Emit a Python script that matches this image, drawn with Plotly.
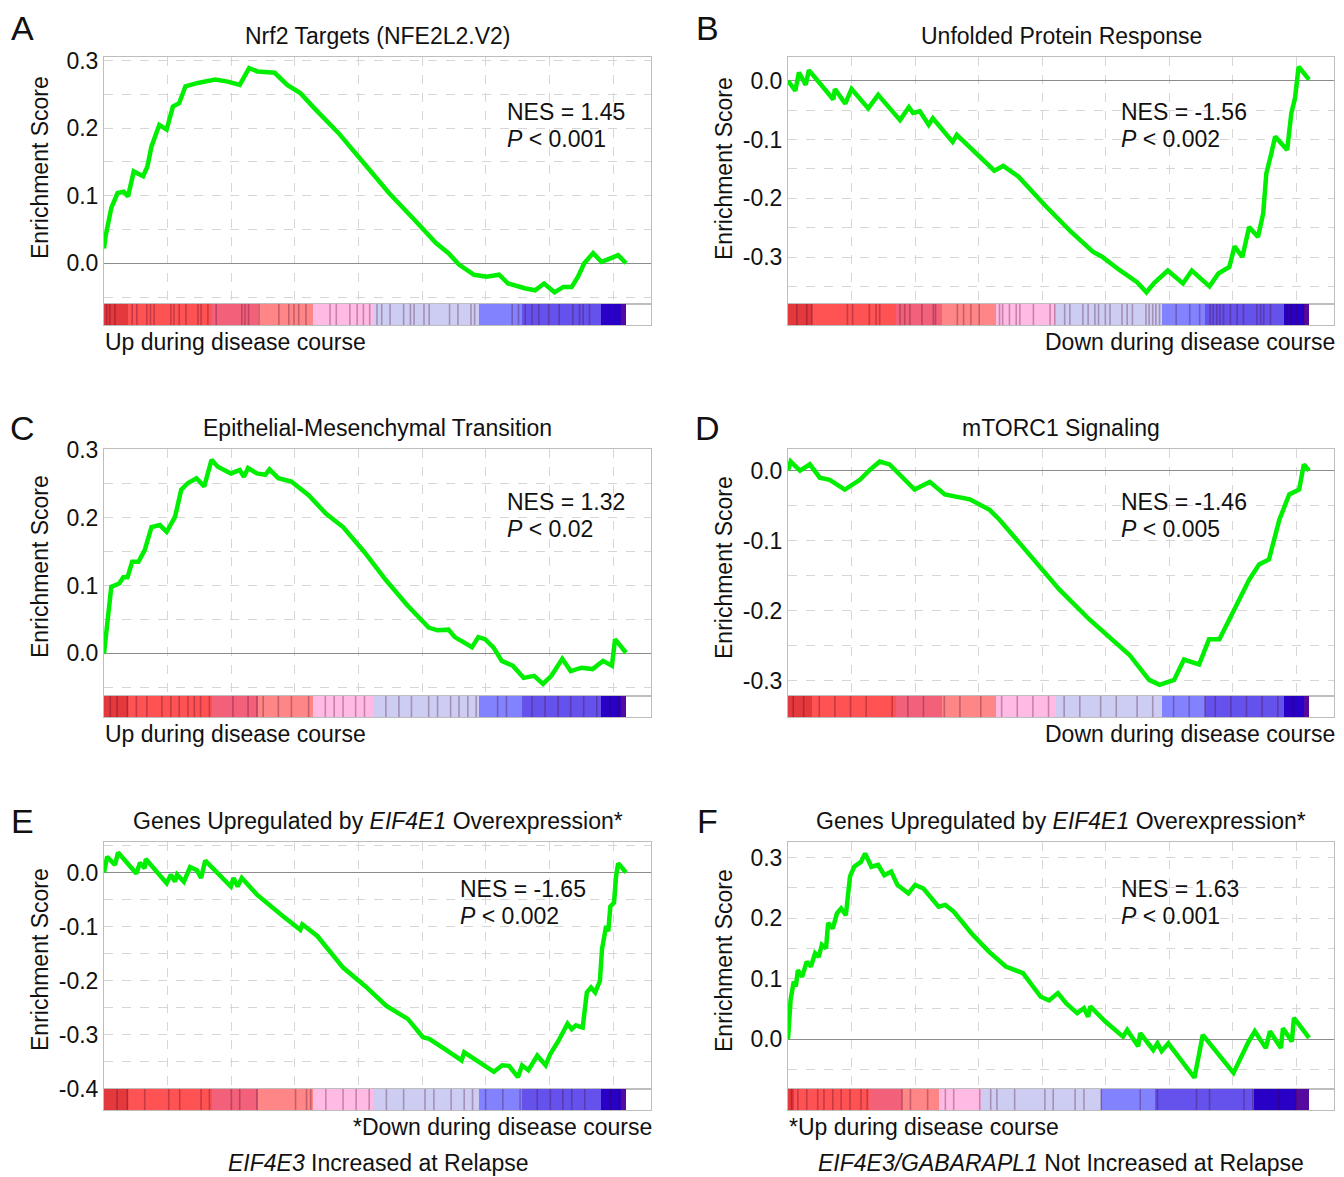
import plotly.graph_objects as go

# ---------------- data ----------------
N_GENES = 16400          # length of the ranked gene list
GRID_STEP = 2000         # rank spacing of the vertical grid lines

panel_letters = ["A", "B", "C", "D", "E", "F"]
panel_titles = [
    "Nrf2 Targets (NFE2L2.V2)",
    "Unfolded Protein Response",
    "Epithelial-Mesenchymal Transition",
    "mTORC1 Signaling",
    "Genes Upregulated by <i>EIF4E1</i> Overexpression*",
    "Genes Upregulated by <i>EIF4E1</i> Overexpression*",
]
nes_values = ["1.45", "-1.56", "1.32", "-1.46", "-1.65", "1.63"]
p_values = ["0.001", "0.002", "0.02", "0.005", "0.002", "0.001"]
direction_labels = [
    "Up during disease course", "Down during disease course",
    "Up during disease course", "Down during disease course",
    "*Down during disease course", "*Up during disease course",
]
captions = [None, None, None, None,
            "<i>EIF4E3</i> Increased at Relapse",
            "<i>EIF4E3/GABARAPL1</i> Not Increased at Relapse"]
y_tick_values = [
    [0.0, 0.1, 0.2, 0.3],
    [0.0, -0.1, -0.2, -0.3],
    [0.0, 0.1, 0.2, 0.3],
    [0.0, -0.1, -0.2, -0.3],
    [0.0, -0.1, -0.2, -0.3, -0.4],
    [0.0, 0.1, 0.2, 0.3],
]

# running enrichment score: position in ranked list (fraction) and ES
a_pos = [0, 0.003, 0.014, 0.026, 0.038, 0.046, 0.057, 0.075, 0.083, 0.091, 0.106, 0.12, 0.132, 0.144, 0.156,
         0.18, 0.213, 0.237, 0.26, 0.278, 0.294, 0.327, 0.351, 0.376, 0.4, 0.449, 0.498, 0.546, 0.595, 0.636,
         0.66, 0.68, 0.709, 0.733, 0.757, 0.774, 0.806, 0.826, 0.843, 0.863, 0.88, 0.896, 0.908, 0.92, 0.937,
         0.953, 0.969, 0.985, 1.0]
a_es = [0.022, 0.04, 0.082, 0.104, 0.106, 0.099, 0.136, 0.129, 0.143, 0.173, 0.205, 0.198, 0.232, 0.237, 0.262,
        0.267, 0.272, 0.269, 0.264, 0.289, 0.284, 0.282, 0.264, 0.252, 0.232, 0.193, 0.148, 0.104, 0.064, 0.030,
        0.015, -0.002, -0.017, -0.020, -0.017, -0.030, -0.037, -0.040, -0.030, -0.043, -0.035, -0.035, -0.020,
        0.000, 0.015, 0.002, 0.007, 0.012, 0.0]

b_pos = [0, 0.014, 0.021, 0.034, 0.04, 0.055, 0.087, 0.09, 0.11, 0.122, 0.154, 0.173, 0.215, 0.232, 0.24,
         0.253, 0.27, 0.278, 0.316, 0.324, 0.341, 0.396, 0.413, 0.442, 0.493, 0.543, 0.585, 0.602, 0.636, 0.67,
         0.688, 0.703, 0.729, 0.758, 0.775, 0.809, 0.826, 0.847, 0.857, 0.872, 0.885, 0.902, 0.912, 0.918, 0.927,
         0.935, 0.958, 0.966, 0.973, 0.98, 1.0]
b_es = [0.0, -0.017, 0.014, -0.007, 0.018, 0.002, -0.032, -0.014, -0.039, -0.014, -0.047, -0.024, -0.067, -0.045,
        -0.055, -0.052, -0.075, -0.064, -0.104, -0.092, -0.106, -0.153, -0.145, -0.163, -0.212, -0.257, -0.291,
        -0.299, -0.322, -0.343, -0.36, -0.344, -0.323, -0.345, -0.323, -0.35, -0.328, -0.317, -0.282, -0.3,
        -0.249, -0.266, -0.226, -0.158, -0.126, -0.095, -0.118, -0.055, -0.030, 0.024, 0.002]

c_pos = [0, 0.004, 0.008, 0.014, 0.029, 0.037, 0.045, 0.054, 0.066, 0.078, 0.091, 0.107, 0.12, 0.136, 0.148,
         0.161, 0.177, 0.192, 0.206, 0.218, 0.243, 0.26, 0.268, 0.276, 0.293, 0.309, 0.317, 0.334, 0.359, 0.392,
         0.425, 0.458, 0.499, 0.54, 0.581, 0.622, 0.639, 0.66, 0.672, 0.705, 0.717, 0.73, 0.746, 0.762, 0.783,
         0.804, 0.824, 0.841, 0.857, 0.878, 0.894, 0.915, 0.936, 0.956, 0.973, 0.979, 1.0]
c_es = [0.0, 0.029, 0.068, 0.098, 0.103, 0.112, 0.112, 0.135, 0.135, 0.152, 0.186, 0.189, 0.179, 0.201, 0.241,
        0.251, 0.258, 0.246, 0.285, 0.275, 0.265, 0.27, 0.26, 0.273, 0.265, 0.263, 0.271, 0.258, 0.253, 0.233,
        0.206, 0.186, 0.149, 0.108, 0.071, 0.038, 0.034, 0.035, 0.024, 0.009, 0.024, 0.021, 0.009, -0.011,
        -0.018, -0.036, -0.033, -0.045, -0.033, -0.008, -0.026, -0.021, -0.023, -0.011, -0.018, 0.021, 0.001]

d_pos = [0, 0.005, 0.023, 0.042, 0.061, 0.08, 0.109, 0.138, 0.157, 0.176, 0.195, 0.215, 0.243, 0.272, 0.301,
         0.349, 0.387, 0.406, 0.464, 0.521, 0.579, 0.617, 0.655, 0.693, 0.713, 0.741, 0.76, 0.789, 0.808, 0.828,
         0.847, 0.866, 0.885, 0.904, 0.923, 0.943, 0.962, 0.981, 0.99, 1.0]
d_es = [0.0, 0.013, 0.0, 0.009, -0.01, -0.013, -0.027, -0.013, 0.001, 0.013, 0.009, -0.006, -0.027, -0.016,
        -0.034, -0.041, -0.056, -0.07, -0.12, -0.17, -0.213, -0.239, -0.263, -0.299, -0.306, -0.299, -0.27,
        -0.277, -0.241, -0.241, -0.213, -0.184, -0.156, -0.134, -0.127, -0.07, -0.034, -0.027, 0.009, 0.0]

e_pos = [0, 0.006, 0.021, 0.027, 0.062, 0.069, 0.078, 0.08, 0.12, 0.128, 0.136, 0.14, 0.153, 0.165, 0.178,
         0.186, 0.194, 0.243, 0.248, 0.256, 0.264, 0.293, 0.343, 0.376, 0.38, 0.409, 0.458, 0.5, 0.541, 0.582,
         0.611, 0.623, 0.656, 0.685, 0.69, 0.722, 0.747, 0.763, 0.776, 0.793, 0.801, 0.813, 0.83, 0.846, 0.855,
         0.871, 0.888, 0.896, 0.904, 0.917, 0.925, 0.933, 0.941, 0.95, 0.954, 0.962, 0.966, 0.97, 0.977, 0.981,
         0.985, 1.0]
e_es = [0.0, 0.029, 0.014, 0.037, -0.002, 0.018, 0.008, 0.025, -0.02, -0.004, -0.017, -0.004, -0.017, 0.01,
        0.004, -0.01, 0.022, -0.026, -0.01, -0.026, -0.01, -0.041, -0.081, -0.106, -0.096, -0.118, -0.176, -0.21,
        -0.247, -0.271, -0.305, -0.308, -0.329, -0.348, -0.333, -0.354, -0.369, -0.357, -0.358, -0.379, -0.357,
        -0.366, -0.339, -0.357, -0.336, -0.311, -0.28, -0.29, -0.283, -0.287, -0.222, -0.213, -0.222, -0.201,
        -0.142, -0.099, -0.109, -0.063, -0.056, -0.007, 0.017, 0.0]

f_pos = [0, 0.002, 0.005, 0.011, 0.015, 0.019, 0.027, 0.036, 0.044, 0.052, 0.059, 0.065, 0.073, 0.077, 0.086,
         0.094, 0.102, 0.111, 0.119, 0.127, 0.14, 0.148, 0.16, 0.173, 0.185, 0.198, 0.21, 0.231, 0.244, 0.26,
         0.289, 0.302, 0.318, 0.352, 0.385, 0.418, 0.451, 0.485, 0.501, 0.518, 0.534, 0.555, 0.568, 0.576, 0.58,
         0.609, 0.643, 0.651, 0.672, 0.676, 0.701, 0.709, 0.717, 0.73, 0.78, 0.788, 0.796, 0.855, 0.867, 0.875,
         0.884, 0.896, 0.917, 0.925, 0.946, 0.95, 0.967, 0.971, 1.0]
f_es = [0.0, 0.032, 0.065, 0.095, 0.087, 0.114, 0.103, 0.128, 0.12, 0.142, 0.136, 0.156, 0.15, 0.192, 0.183,
        0.208, 0.216, 0.205, 0.269, 0.285, 0.293, 0.307, 0.285, 0.288, 0.271, 0.277, 0.255, 0.241, 0.255, 0.249,
        0.219, 0.222, 0.211, 0.175, 0.145, 0.12, 0.109, 0.07, 0.064, 0.076, 0.059, 0.043, 0.051, 0.037, 0.054,
        0.029, 0.004, 0.015, -0.012, 0.01, -0.018, -0.007, -0.02, -0.007, -0.064, -0.029, 0.007, -0.056, -0.034,
        -0.02, -0.004, 0.013, -0.015, 0.013, -0.015, 0.018, -0.004, 0.035, 0.002]

# gene-set member positions drawn as stripes on the ranked-list bar (fraction of list)
a_hits = [0.005, 0.011, 0.021, 0.054, 0.063, 0.082, 0.089, 0.096, 0.128, 0.134, 0.144, 0.157, 0.18, 0.186, 0.199,
          0.215, 0.264, 0.27, 0.277, 0.297, 0.335, 0.354, 0.364, 0.373, 0.387, 0.433, 0.445, 0.471, 0.485, 0.497,
          0.509, 0.523, 0.532, 0.548, 0.574, 0.587, 0.594, 0.613, 0.623, 0.662, 0.678, 0.703, 0.71, 0.782, 0.794,
          0.807, 0.82, 0.833, 0.852, 0.872, 0.898, 0.911, 0.918, 0.93]
b_hits = [0.017, 0.036, 0.046, 0.114, 0.124, 0.156, 0.169, 0.176, 0.215, 0.224, 0.234, 0.257, 0.279, 0.283, 0.325,
          0.337, 0.351, 0.367, 0.406, 0.412, 0.425, 0.438, 0.445, 0.471, 0.503, 0.512, 0.531, 0.541, 0.566, 0.576,
          0.589, 0.596, 0.609, 0.618, 0.641, 0.651, 0.661, 0.687, 0.693, 0.7, 0.706, 0.713, 0.745, 0.771, 0.79,
          0.81, 0.816, 0.823, 0.829, 0.836, 0.849, 0.862, 0.874, 0.9, 0.907, 0.913, 0.926, 0.958, 0.965, 0.977, 0.99]
c_hits = [0.012, 0.025, 0.045, 0.062, 0.082, 0.111, 0.128, 0.144, 0.161, 0.173, 0.185, 0.202, 0.247, 0.276, 0.293,
          0.305, 0.334, 0.359, 0.392, 0.424, 0.441, 0.458, 0.482, 0.499, 0.54, 0.565, 0.589, 0.622, 0.639, 0.664,
          0.68, 0.697, 0.713, 0.754, 0.771, 0.82, 0.845, 0.87, 0.894, 0.919, 0.944, 0.969, 0.985]
d_hits = [0.01, 0.03, 0.06, 0.09, 0.12, 0.15, 0.2, 0.23, 0.26, 0.3, 0.33, 0.37, 0.41, 0.44, 0.47, 0.5, 0.53,
          0.56, 0.6, 0.63, 0.67, 0.7, 0.74, 0.77, 0.8, 0.82, 0.85, 0.88, 0.91, 0.94, 0.97]
e_hits = [0.025, 0.045, 0.078, 0.124, 0.145, 0.186, 0.202, 0.244, 0.26, 0.293, 0.367, 0.388, 0.396, 0.425, 0.458,
          0.483, 0.508, 0.541, 0.574, 0.615, 0.632, 0.665, 0.69, 0.706, 0.731, 0.764, 0.797, 0.83, 0.855, 0.879,
          0.896, 0.921, 0.971, 0.987]
f_hits = [0.007, 0.019, 0.036, 0.057, 0.069, 0.086, 0.102, 0.119, 0.14, 0.152, 0.219, 0.235, 0.268, 0.302, 0.318,
          0.368, 0.389, 0.401, 0.435, 0.493, 0.509, 0.551, 0.568, 0.601, 0.676, 0.709, 0.784, 0.809, 0.875, 0.892,
          0.942, 0.975]

# ranked-list colour bands (fraction of list where each band starts/ends)
bands_main = [0, 0.046, 0.207, 0.295, 0.40, 0.515, 0.718, 0.80, 0.952, 0.99, 1.0]
bands_f = [0, 0.012, 0.156, 0.218, 0.289, 0.37, 0.60, 0.705, 0.894, 0.975, 1.0]

positions = [a_pos, b_pos, c_pos, d_pos, e_pos, f_pos]
scores = [a_es, b_es, c_es, d_es, e_es, f_es]
hits = [a_hits, b_hits, c_hits, d_hits, e_hits, f_hits]
bands = [bands_main, bands_main, bands_main, bands_main, bands_main, bands_f]

# ---------------- styles / geometry ----------------
W, H = 1344, 1177          # browser window
OFF = 8                    # page body margin that offsets the figure
FIG_W, FIG_H = W - OFF, H - OFF
FONT = "Liberation Sans, Arial, Helvetica, sans-serif"
FS = 23
GREEN = "#00ee00"
GRID = "#d6d6d6"
FRAME = "#bdbdbd"
band_colors = ["#e3383c", "#ff5252", "#f3607a", "#ff8686", "#ffbbe4",
               "#cdcdf3", "#8282ff", "#6552ec", "#2800c6", "#55099f"]
y_ranges = [(-0.0603, 0.3054), (-0.380, 0.0404), (-0.0627, 0.301),
            (-0.322, 0.031), (-0.4008, 0.0564), (-0.0826, 0.326)]
col_left = [104, 788]
col_right = [651, 1334]
row_top = [57, 449, 842]
ES_H = 247
BAR_H = 21
X_MAX = N_GENES * 547 / 522
PADX = 3                   # inner padding of annotation boxes


def fx(px):
    return (px - OFF) / FIG_W


def fy(py):
    return 1 - (py - OFF) / FIG_H


def discrete_scale(colors):
    n = len(colors)
    sc = []
    for i, c in enumerate(colors):
        sc.append([i / n, c])
        sc.append([(i + 1) / n, c])
    return sc


def note(text, px, py, xanchor="center", size=FS, angle=0):
    return dict(text=text, x=fx(px), y=fy(py), xref="paper", yref="paper",
                xanchor=xanchor, yanchor="middle", showarrow=False, textangle=angle,
                font=dict(family=FONT, size=size, color="#111"))


fig = go.Figure()
layout = {}
annotations = []

for i in range(6):
    col, row = i % 2, i // 2
    xl, xr = col_left[col], col_right[col]
    top = row_top[row]
    es_bot = top + ES_H
    bar_bot = es_bot + BAR_H
    k1, k2 = 2 * i + 1, 2 * i + 2
    xa1 = "x" if k1 == 1 else f"x{k1}"
    ya1 = "y" if k1 == 1 else f"y{k1}"
    xa2, ya2 = f"x{k2}", f"y{k2}"
    xk1 = "xaxis" if k1 == 1 else f"xaxis{k1}"
    yk1 = "yaxis" if k1 == 1 else f"yaxis{k1}"
    xk2, yk2 = f"xaxis{k2}", f"yaxis{k2}"

    # ranked-list bar
    edges = [b * N_GENES for b in bands[i]]
    ncol = len(edges) - 1
    fig.add_trace(go.Heatmap(
        x=edges, y=[0, 1], z=[list(range(ncol))],
        colorscale=discrete_scale(band_colors[:ncol]), zmin=-0.5, zmax=ncol - 0.5,
        showscale=False, hoverinfo="skip", xaxis=xa2, yaxis=ya2))
    sx, sy = [], []
    for h in hits[i]:
        sx += [h * N_GENES, h * N_GENES, None]
        sy += [0, 1, None]
    fig.add_trace(go.Scatter(x=sx, y=sy, mode="lines",
                             line=dict(color="rgba(70,0,40,0.30)", width=1.6),
                             hoverinfo="skip", showlegend=False, xaxis=xa2, yaxis=ya2))

    # running enrichment score
    fig.add_trace(go.Scatter(
        x=[p * N_GENES for p in positions[i]], y=scores[i], mode="lines",
        line=dict(color=GREEN, width=4.5), hoverinfo="skip", showlegend=False,
        xaxis=xa1, yaxis=ya1))

    layout[xk1] = dict(domain=[fx(xl), fx(xr)], range=[0, X_MAX], anchor=ya1,
                       tickmode="linear", tick0=0, dtick=GRID_STEP,
                       showgrid=True, gridcolor=GRID, griddash="dash", gridwidth=1,
                       showticklabels=False, ticks="", zeroline=False, automargin=False,
                       showline=True, mirror=True, linecolor=FRAME, linewidth=1)
    tv = y_tick_values[i]
    layout[yk1] = dict(domain=[fy(es_bot), fy(top)], range=list(y_ranges[i]), anchor=xa1,
                       tickmode="array", tickvals=tv, ticktext=[f"{v:.1f}" for v in tv],
                       tickfont=dict(family=FONT, size=FS, color="#111"),
                       showgrid=True, gridcolor=GRID, griddash="dash", gridwidth=1,
                       minor=dict(tickmode="linear", tick0=0, dtick=0.05, showgrid=True,
                                  gridcolor=GRID, griddash="dash", gridwidth=1, ticks=""),
                       ticks="", zeroline=True, zerolinecolor="#8c8c8c", zerolinewidth=1.3,
                       automargin=False,
                       showline=True, mirror=True, linecolor=FRAME, linewidth=1)
    layout[xk2] = dict(domain=[fx(xl), fx(xr)], range=[0, X_MAX], anchor=ya2,
                       showgrid=False, showticklabels=False, ticks="", zeroline=False,
                       automargin=False,
                       showline=True, mirror=True, linecolor=FRAME, linewidth=1)
    layout[yk2] = dict(domain=[fy(bar_bot), fy(es_bot)], range=[0, 1], anchor=xa2,
                       showgrid=False, showticklabels=False, ticks="", zeroline=False,
                       automargin=False,
                       showline=True, mirror=True, linecolor=FRAME, linewidth=1)

    # texts
    letter_x = [22, 707][col]
    letter_y = [28, 428, 821][row]
    annotations.append(note(panel_letters[i], letter_x, letter_y, size=34))
    annotations.append(note(panel_titles[i], (xl + xr) / 2, top - 21))
    ytitle_y = [168, 567, 960][row]
    annotations.append(note("Enrichment Score", xl - 64, ytitle_y, angle=-90))
    nes_left = [507, 1121, 507, 1121, 460, 1121][i] - PADX + 1
    nes_dy = [55, 55, 53, 53, 47, 47][i]
    annotations.append(note(f"NES = {nes_values[i]}", nes_left, top + nes_dy, xanchor="left"))
    annotations.append(note(f"<i>P</i> &lt; {p_values[i]}", nes_left, top + nes_dy + 27, xanchor="left"))
    if direction_labels[i].lstrip("*").startswith("Up"):
        annotations.append(note(direction_labels[i], xl + 2 - PADX, bar_bot + 17, xanchor="left"))
    else:
        annotations.append(note(direction_labels[i], xr + PADX, bar_bot + 17, xanchor="right"))
    if captions[i]:
        annotations.append(note(captions[i], (xl + xr) / 2, 1163))

fig.update_layout(
    width=FIG_W, height=FIG_H, margin=dict(l=0, r=0, t=0, b=0, pad=0),
    paper_bgcolor="white", plot_bgcolor="white", showlegend=False,
    font=dict(family=FONT, size=FS, color="#111"),
    annotations=annotations, **layout)

fig.write_html("out.html")
